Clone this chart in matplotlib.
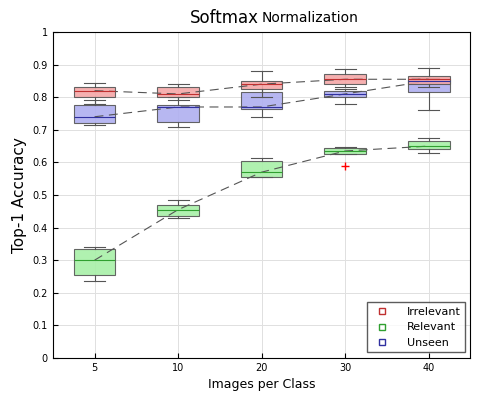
import matplotlib
matplotlib.use("Agg")
import matplotlib.pyplot as plt
from matplotlib.lines import Line2D

categories = ["5", "10", "20", "30", "40"]
series = ["Irrelevant", "Relevant", "Unseen"]
colors = {"Irrelevant": ("#f4a8a8", "#c03030"), "Relevant": ("#a8f0a8", "#30a030"), "Unseen": ("#b0b0f0", "#3030a0")}
# q1, median, q3, whislo, whishi
irrelevant = [(0.80, 0.82, 0.83, 0.78, 0.845), (0.80, 0.81, 0.83, 0.79, 0.84),
              (0.825, 0.84, 0.85, 0.80, 0.88), (0.84, 0.855, 0.87, 0.83, 0.885),
              (0.84, 0.855, 0.865, 0.83, 0.89)]
relevant = [(0.255, 0.30, 0.335, 0.235, 0.34), (0.435, 0.455, 0.47, 0.43, 0.485),
            (0.555, 0.57, 0.605, 0.555, 0.615), (0.625, 0.635, 0.645, 0.625, 0.648),
            (0.64, 0.65, 0.665, 0.63, 0.675)]
unseen = [(0.72, 0.74, 0.775, 0.715, 0.79), (0.725, 0.77, 0.775, 0.71, 0.80),
          (0.765, 0.77, 0.815, 0.74, 0.84), (0.80, 0.81, 0.82, 0.78, 0.825),
          (0.815, 0.85, 0.855, 0.76, 0.86)]
outliers = {"Relevant": {3: [0.59]}}
data = {"Irrelevant": irrelevant, "Relevant": relevant, "Unseen": unseen}

fig = plt.figure(figsize=(4.8, 4.0), dpi=100)
ax = fig.add_axes([0.11, 0.105, 0.87, 0.815])
pos = list(range(1, len(categories) + 1))
for name in ["Unseen", "Irrelevant", "Relevant"]:
    fc, ec = colors[name]
    stats = []
    for i, (q1, med, q3, lo, hi) in enumerate(data[name]):
        stats.append(dict(q1=q1, med=med, q3=q3, whislo=lo, whishi=hi,
                          fliers=outliers.get(name, {}).get(i, [])))
    ax.bxp(stats, positions=pos, widths=0.5, patch_artist=True,
           boxprops=dict(facecolor=fc, edgecolor="#555555", linewidth=0.8, alpha=0.9),
           medianprops=dict(color=ec, linewidth=0.8),
           whiskerprops=dict(color="#555555", linewidth=0.8),
           capprops=dict(color="#555555", linewidth=0.8),
           flierprops=dict(marker="+", markeredgecolor="red", markersize=6))
    ax.plot(pos, [d[1] for d in data[name]], ls=(0, (8, 5)), color="#555555", lw=0.8)

ax.set_xlim(0.5, 5.5)
ax.set_ylim(0, 1)
ax.set_xticks(pos)
ax.set_xticklabels(categories)
ax.set_yticks([i / 10 for i in range(11)])
ax.set_yticklabels(["0", "0.1", "0.2", "0.3", "0.4", "0.5", "0.6", "0.7", "0.8", "0.9", "1"])
ax.tick_params(labelsize=7, direction="in")
ax.grid(True, color="#e0e0e0", lw=0.7)
ax.set_axisbelow(True)
ax.set_xlabel("Images per Class", fontsize=9)
ax.set_ylabel("Top-1 Accuracy", fontsize=11)
fig.text(0.54, 0.955, "Softmax", fontsize=12, ha="right", va="center")
fig.text(0.545, 0.955, "Normalization", fontsize=10, ha="left", va="center")
handles = [Line2D([], [], marker="s", ls="none", markerfacecolor="none",
                  markeredgecolor=colors[n][1], markersize=4, label=n) for n in series]
leg = ax.legend(handles=handles, loc="lower right", fontsize=8, fancybox=False,
                edgecolor="#333333", handletextpad=1.2)
fig.savefig("out.png")
